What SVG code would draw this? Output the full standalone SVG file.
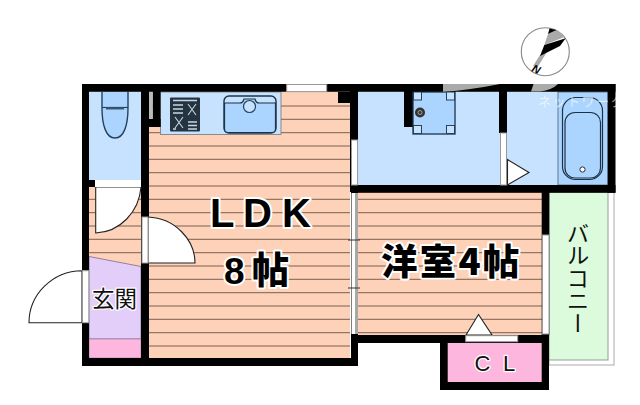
<svg xmlns="http://www.w3.org/2000/svg" width="640" height="405" viewBox="0 0 640 405">
<style>
.wall{fill:#000}
.blue{fill:#c6e2ff}
.fix{fill:#abd5ff;stroke:#27415c;stroke-width:1.4}
.floor{fill:#fdd2b8}
.grid{fill:none;stroke:#7b5f52;stroke-width:1}
.open{fill:#fff;stroke:#999;stroke-width:1}
.door{fill:#fff;stroke:#222;stroke-width:1.1}
.big{font-family:"Noto Sans CJK JP","Liberation Sans",sans-serif;font-weight:900;fill:#000;stroke:#fff;stroke-width:4;paint-order:stroke;stroke-linejoin:round}
.lab{font-family:"Noto Sans CJK JP","Liberation Sans",sans-serif;fill:#111;stroke:#fff;stroke-width:2.5;paint-order:stroke;stroke-linejoin:round}
</style>
<rect width="640" height="405" fill="#fff"/>
<g id="balcony">
<rect x="549" y="192" width="65" height="173" fill="#fff" stroke="#aaa"/>
<rect x="549" y="192" width="59" height="168" fill="#dcfbdc" stroke="#999"/>
<text class="lab" style="stroke:none" x="578" y="222" font-size="22.5" writing-mode="vertical-rl">バルコニー</text>
</g>
<g id="ldk">
<rect class="floor" x="149" y="92" width="201" height="266"/>
<path class="grid" d="M149 106H350M149 119.3H350M149 132.7H350M149 146H350M149 159.3H350M149 172.7H350M149 186H350M149 199.3H350M149 212.7H350M149 226H350M149 239.3H350M149 252.7H350M149 266H350M149 279.3H350M149 292.7H350M149 306H350M149 319.3H350M149 332.7H350M149 346H350"/>
</g>
<g id="kitchen">
<rect x="160.500" y="92" width="120.500" height="42.500" fill="#c6e2ff" stroke="#777" stroke-width="0.8"/>
<rect x="170" y="97.500" width="30" height="34" fill="#26343f" rx="1"/>
<path d="M173 100.500H197M173 105H183M173 109H183M173 113H183M188 122H197M188 125.500H197M188 129H197M173 129H176" stroke="#c4d8ea" stroke-width="1.300" fill="none"/>
<path d="M188 104L196 115M196 104L188 115M175 117L183 128M183 117L175 128" stroke="#c4d8ea" stroke-width="1.100" fill="none"/>
<rect x="224" y="96" width="52" height="37" rx="5" fill="#c6e2ff" stroke="#1d3246" stroke-width="1.400"/>
<path d="M224.500 103H240Q243 103 244 99H255Q256 103 259 103H275.500V129Q275.500 132.500 272 132.500H228Q224.500 132.500 224.500 129Z" fill="#abd5ff" stroke="#1d3246" stroke-width="1.200"/>
<circle cx="249.500" cy="106.500" r="6" fill="#c6e2ff" stroke="#27415c" stroke-width="1.200"/>
</g>
<g id="toilet">
<rect class="blue" x="89" y="92" width="53" height="88"/>
<path class="fix" d="M102 92V108C102 125 106 138 115 138C124 138 128 125 128 108V92"/>
<path d="M102 107.500H128" stroke="#27415c" stroke-width="1.200"/>
<path d="M106 108.500H124" stroke="#3c5970" stroke-width="2"/>
</g>
<g id="hall">
<rect class="floor" x="89" y="187" width="52" height="80"/>
<path class="grid" d="M89 199.300H141M89 212.700H141M89 226H141M89 239.300H141M89 252.700H141"/>
<path d="M89 256.500L141 266.500V339H89Z" fill="#e3cdf9" stroke="#7c6a8a" stroke-width="0.800"/>
<rect x="89" y="339" width="52" height="19" fill="#fdb6dd" stroke="#7c6a8a" stroke-width="0.500"/>
<text class="lab" x="92" y="307" font-size="22.500">玄関</text>
</g>
<g id="western-room">
<rect class="floor" x="358" y="192" width="184" height="143"/>
<path class="grid" d="M358 199.300H542M358 212.700H542M358 226H542M358 239.300H542M358 252.700H542M358 266H542M358 279.300H542M358 292.700H542M358 306H542M358 319.300H542M358 332.700H542"/>
<text class="big" x="381" y="275" font-size="36.500" letter-spacing="2.200">洋室4帖</text>
</g>
<g id="washroom">
<rect class="blue" x="358" y="92" width="200" height="93"/>
<rect class="fix" x="413" y="92" width="42" height="42" stroke-width="2"/>
<g fill="#c6e2ff" stroke="#27415c">
<rect x="413.500" y="92" width="8" height="8"/><rect x="446.500" y="92" width="8" height="8"/>
<rect x="413.500" y="125.500" width="8" height="8"/><rect x="446.500" y="125.500" width="8" height="8"/>
</g>
<circle cx="420" cy="112.500" r="5" fill="#333"/>
<circle cx="420" cy="112.500" r="2" fill="none" stroke="#bbb" stroke-width="0.800"/>
</g>
<g id="bath">
<rect x="558" y="92" width="50" height="93" fill="#abd5ff" stroke="#4a6078" stroke-width="0.800"/>
<rect x="562.500" y="97.500" width="40" height="82" rx="13" fill="#abd5ff" stroke="#1d3246" stroke-width="1.200"/>
<rect x="565" y="112.500" width="35.500" height="65.500" rx="10" fill="#abd5ff" stroke="#1d3246" stroke-width="1.200"/>
<circle cx="582.500" cy="169.500" r="2.600" fill="#fff" stroke="#1d3246"/>
</g>
<g id="closet">
<rect class="wall" x="440" y="335" width="109" height="55"/>
<rect x="447.700" y="343" width="94" height="39" fill="#fdb6dd"/>
<text class="lab" style="font-family:'Liberation Sans',sans-serif" x="474.500 503" y="371" font-size="22">CL</text>
</g>
<g id="walls">
<rect class="wall" x="82" y="84" width="7" height="186.700"/>
<rect class="wall" x="82" y="322.700" width="7" height="43"/>
<rect class="wall" x="82" y="180" width="13" height="7"/>
<rect class="wall" x="141" y="84" width="8" height="282"/>
<rect class="wall" x="149" y="119" width="11.500" height="8"/>
<rect class="wall" x="152.700" y="84" width="7.800" height="43"/>
<rect class="wall" x="82" y="84" width="533.500" height="7.800"/>
<rect class="wall" x="350" y="84" width="8" height="108"/>
<rect class="wall" x="607.700" y="84" width="7.800" height="108.700"/>
<rect class="wall" x="351" y="185" width="264.500" height="7.800"/>
<rect class="wall" x="499" y="84" width="8" height="49"/>
<rect class="wall" x="404" y="84" width="8.700" height="43"/>
<rect class="wall" x="541.700" y="185" width="7.600" height="150"/>
<rect class="wall" x="351" y="335" width="198" height="8"/>
<rect class="wall" x="351" y="192" width="7" height="174"/>
<rect class="wall" x="82" y="358" width="276" height="8"/>
<rect class="wall" x="338" y="92" width="13" height="11"/>
<rect x="149" y="92" width="3.700" height="27" fill="#bbb"/>
<path d="M443 84H500Q470 90 443 91.800Z" fill="#aaa"/>
<path d="M531 91.500L533.500 84H558Q552 90 540 91.500Z" fill="#aaa"/>
</g>
<g id="openings">
<rect class="open" x="286.700" y="84.500" width="40" height="7.200"/>
<rect class="open" x="351.500" y="140" width="6" height="45"/>
<rect class="open" x="500.500" y="133" width="6" height="52"/>
<path class="door" d="M507.500 159.500L529 172.500L507.500 185Z"/>
<rect x="351.500" y="193" width="3.500" height="141" fill="#fff"/>
<rect x="355" y="193" width="3" height="141" fill="#a8a8a8"/>
<path d="M348 240H360M348 288H360" stroke="#333" stroke-width="1"/>
<rect class="open" x="542.500" y="235" width="6.500" height="99"/>
<path class="door" d="M466 335L478.500 314.500L492 335Z"/>
<rect class="open" x="465.700" y="335.700" width="52" height="6"/>
<path class="door" d="M95.700 187V233C120 232 139 212 141 187H95.700Z" stroke-width="1"/>
<rect x="95" y="180" width="46" height="7" fill="#fff"/>
<path class="door" d="M148 217C175 218 195 240 195 263H148Z"/>
<rect class="open" x="142" y="217" width="6" height="46"/>
<path class="door" d="M82 270.700C52 271 29 295 29 322.700H82Z"/>
<rect class="open" x="82.500" y="270.700" width="6.300" height="52"/>
</g>
<g id="compass">
<circle cx="545.300" cy="51.700" r="24" fill="#fff" stroke="#888" stroke-width="1.100"/>
<path d="M548 34L556.700 30L565 36.700L544.300 45ZM540 55L533 66L537 68L547 52Z" fill="#aaa"/>
<path d="M549.500 28.500L556.500 30L548 34ZM544.300 45L565.700 38.300L560 46L540 56Z" fill="#000"/>
<text x="0" y="0" transform="translate(531 71) rotate(25)" font-family="Liberation Sans,sans-serif" font-weight="700" font-style="italic" font-size="11" fill="#000">N</text>
</g>
<text id="watermark" x="538" y="106" font-family="Noto Sans CJK JP,sans-serif" font-size="13" letter-spacing="1.500" fill="#fff" opacity="0.6">ネットワーク</text>
<text class="big" x="210 243 282" y="227" font-size="40" style="font-family:'Liberation Sans',sans-serif;font-weight:700">LDK</text>
<text class="big" x="224" y="284" font-size="37" style="font-family:'Liberation Sans','Noto Sans CJK JP',sans-serif">8<tspan x="252">帖</tspan></text>
</svg>
